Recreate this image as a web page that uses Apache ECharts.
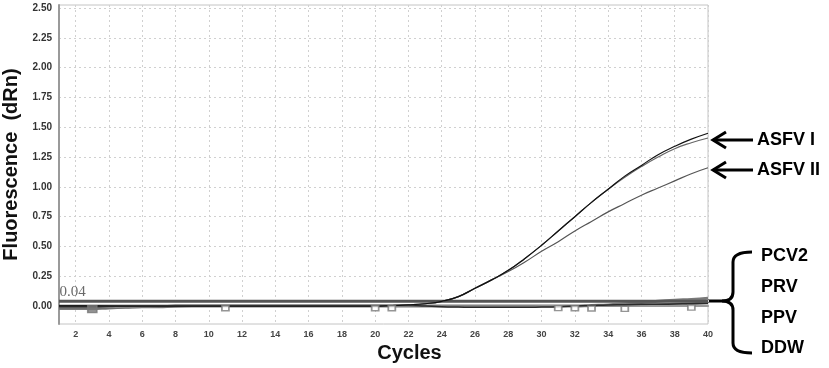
<!DOCTYPE html>
<html>
<head>
<meta charset="utf-8">
<script src="https://cdn.jsdelivr.net/npm/echarts@6/dist/echarts.min.js"></script>
<style>
html, body { margin: 0; padding: 0; background: #fff; }
#qpcr { width: 829px; height: 368px; }
</style>
</head>
<body>
<div id="qpcr"></div>
<script>
var cycles = [];
for (var c = 1; c <= 40; c++) cycles.push(c);

var xTicks = [2,4,6,8,10,12,14,16,18,20,22,24,26,28,30,32,34,36,38,40];
var yTicks = [0, 0.25, 0.5, 0.75, 1, 1.25, 1.5, 1.75, 2, 2.25, 2.5];
var threshold = 0.04;

var asfv1a = [0,0,0,0,0,0,0,0,0,0,0,0,0,0,0,0,0,0,0,0,
  0.005,0.01,0.02,0.04,0.08,0.15,0.22,0.30,0.40,0.51,0.63,0.75,0.87,0.98,1.09,1.18,1.27,1.34,1.40,1.45];
var asfv1b = [-0.005,-0.005,-0.005,0,0,0,0,0,0,0,0,0,0,0,0,0,0,0,0,0,
  0.005,0.01,0.02,0.04,0.08,0.15,0.22,0.30,0.40,0.51,0.63,0.75,0.87,0.98,1.08,1.17,1.25,1.32,1.37,1.41];
var asfv2 = [-0.01,-0.01,-0.01,-0.005,0,0,0,0,0,0,0,0,0,0,0,0,0,0,0,0,
  0.005,0.01,0.02,0.04,0.08,0.15,0.22,0.29,0.37,0.46,0.54,0.63,0.71,0.79,0.86,0.93,0.99,1.05,1.11,1.16];

var neg1 = [-0.02,-0.02,-0.02,-0.015,-0.01,-0.005,-0.005,0,0,0,0,0,0,0,0,0,0,0,0,0,
  0,0,0,0,0,0,0,0,0,0,0,0,0.005,0.01,0.02,0.03,0.04,0.05,0.055,0.065];
var neg2 = [0.005,0.005,0.005,0.005,0.005,0.005,0.005,0.005,0.005,0.005,0.005,0.005,0.005,0.005,0.005,0.005,0.005,0.005,0.005,0.005,
  0.005,0.005,0.0,-0.005,-0.008,-0.01,-0.01,-0.01,-0.01,-0.008,-0.005,0,0.005,0.01,0.012,0.015,0.015,0.018,0.02,0.025];
var neg3 = [-0.015,-0.015,-0.015,-0.012,-0.01,-0.008,-0.005,-0.003,0,0,0,0,0,0,0,0,0,0,0,0,
  0,0,0,0,0,0,0,0,0,0,0,0,0,0,0.005,0.01,0.015,0.02,0.025,0.03];
var neg4 = [-0.01,-0.01,-0.01,-0.008,-0.006,-0.004,-0.002,0,0,0,0,0,0,0,0,0,0,0,0,0,
  -0.002,-0.002,-0.002,-0.002,-0.002,-0.002,-0.002,-0.002,-0.002,0,0,0,0,0,0,0,0.005,0.01,0.015,0.02];

var markCycles = [3, 11, 20, 21, 31, 32, 33, 35, 39];
var markValues = [-0.025, -0.018, -0.018, -0.018, -0.017, -0.018, -0.02, -0.024, -0.012];

function pairs(ys) {
  return cycles.map(function (x, i) { return [x, ys[i]]; });
}

function curve(name, ys, color, width, z) {
  return {
    name: name, type: 'line', data: pairs(ys), smooth: 0.5,
    symbol: 'none', z: z || 2,
    lineStyle: { color: color, width: width }
  };
}

var ink = { stroke: '#000', lineWidth: 3, fill: null };
var labelFont = { fontFamily: 'Liberation Sans', fontWeight: 'bold', fontSize: 18, fill: '#000', verticalAlign: 'middle' };

function seg(x1, y1, x2, y2) {
  return { type: 'line', shape: { x1: x1, y1: y1, x2: x2, y2: y2 }, style: ink };
}
function bend(x1, y1, cx, cy, x2, y2) {
  return { type: 'bezierCurve', shape: { x1: x1, y1: y1, cpx1: cx, cpy1: cy, x2: x2, y2: y2 }, style: ink };
}
function note(x, y, text) {
  return { type: 'text', style: Object.assign({ x: x, y: y, text: text }, labelFont) };
}

var chart = echarts.init(document.getElementById('qpcr'));

var option = {
  animation: false,
  backgroundColor: '#fff',
  grid: {
    left: 59, right: 121, top: 5, bottom: 44, outerBoundsMode: 'none',
    show: true, borderColor: '#c4c4c4', borderWidth: 1
  },
  xAxis: {
    type: 'value', min: 1, max: 40,
    name: 'Cycles', nameLocation: 'middle', nameGap: 19,
    nameTextStyle: { fontFamily: 'Liberation Sans', fontWeight: 'bold', fontSize: 20, color: '#111', verticalAlign: 'top', padding: [0, 0, 0, 52] },
    axisLine: { lineStyle: { color: '#9a9a9a', width: 2 } },
    axisTick: { show: false, customValues: xTicks },
    axisLabel: { customValues: xTicks, fontFamily: 'Liberation Sans', fontSize: 9, fontWeight: 'bold', color: '#444', margin: 6 },
    splitLine: { show: true, lineStyle: { color: '#d0d0d0', type: [2, 3], width: 1 } }
  },
  yAxis: {
    type: 'value', min: -0.15, max: 2.525,
    name: 'Fluorescence  (dRn)', nameLocation: 'middle', nameGap: 33,
    nameTextStyle: { fontFamily: 'Liberation Sans', fontWeight: 'bold', fontSize: 20, color: '#111' },
    axisLine: { show: true, lineStyle: { color: '#9a9a9a', width: 2 } },
    axisTick: { show: false, customValues: yTicks },
    axisLabel: {
      customValues: yTicks, fontFamily: 'Liberation Sans', fontSize: 10, fontWeight: 'bold', color: '#333', margin: 7,
      formatter: function (v) { return v.toFixed(2); }
    },
    splitLine: { show: true, lineStyle: { color: '#d0d0d0', type: [2, 3], width: 1 } }
  },
  series: [
    {
      name: 'threshold', type: 'line', z: 3,
      symbol: 'circle', symbolSize: 1, showSymbol: true,
      itemStyle: { color: 'rgba(0,0,0,0)' },
      lineStyle: { color: '#555', width: 3 },
      data: [
        { value: [1, threshold], label: { show: true, position: [1, -16], formatter: threshold.toFixed(2),
          fontFamily: 'Liberation Serif', fontSize: 15, color: '#6a6a6a' } },
        [40, threshold]
      ]
    },
    curve('neg1', neg1, '#7a7a7a', 3, 2),
    curve('neg3', neg3, '#6e6e6e', 2, 2),
    curve('neg4', neg4, '#9a9a9a', 1.5, 2),
    curve('neg2', neg2, '#2a2a2a', 1.5, 2),
    curve('ASFV II', asfv2, '#555', 1.2, 4),
    curve('ASFV I b', asfv1b, '#666', 1.2, 4),
    curve('ASFV I a', asfv1a, '#111', 1.2, 4),
    {
      name: 'marks', type: 'scatter', z: 5,
      symbol: 'rect', symbolSize: [7, 5],
      itemStyle: { color: '#fff', borderColor: '#7a7a7a', borderWidth: 1.5 },
      data: markCycles.map(function (x, i) {
        var item = { value: [x, markValues[i]] };
        if (i === 0) {
          item.symbolSize = [9, 7];
          item.itemStyle = { color: '#777', borderColor: '#777' };
        }
        return item;
      })
    }
  ],
  graphic: [
    seg(753, 140, 713, 140),
    { type: 'polyline', shape: { points: [[726, 132], [713, 140], [726, 148]] }, style: ink },
    seg(753, 170, 713, 170),
    { type: 'polyline', shape: { points: [[726, 162], [713, 170], [726, 178]] }, style: ink },
    note(757, 140, 'ASFV I'),
    note(757, 170, 'ASFV II'),
    // brace for the negative samples
    bend(752, 252, 733, 252, 733, 262),
    seg(733, 262, 733, 292),
    bend(733, 292, 733, 301, 722, 301),
    seg(722, 301, 708, 301),
    bend(722, 301, 733, 301, 733, 310),
    seg(733, 310, 733, 343),
    bend(733, 343, 733, 353, 752, 353),
    note(761, 256, 'PCV2'),
    note(761, 287, 'PRV'),
    note(761, 318, 'PPV'),
    note(761, 348, 'DDW')
  ]
};

chart.setOption(option);
</script>
</body>
</html>
